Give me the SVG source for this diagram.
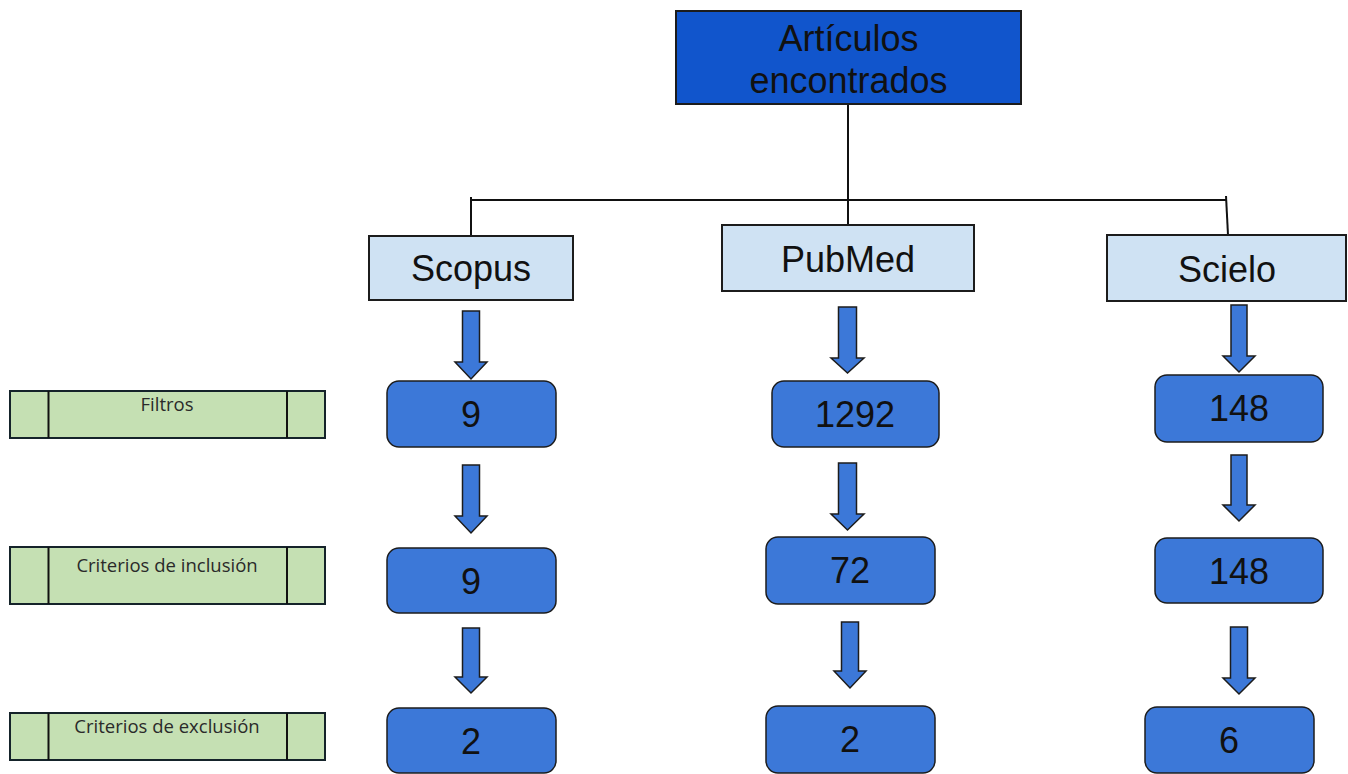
<svg xmlns="http://www.w3.org/2000/svg" width="1348" height="774" viewBox="0 0 1348 774">
<style>
.top{fill:#1155cc;stroke:#1c1c1c;stroke-width:2}
.src{fill:#cfe2f3;stroke:#1c1c1c;stroke-width:2}
.num{fill:#3c78d8;stroke:#1c1c1c;stroke-width:1.5}
.arr{fill:#3c78d8;stroke:#1c1c1c;stroke-width:1.5;stroke-linejoin:miter}
.lab{fill:#c5e0b3;stroke:#15232a;stroke-width:2}
.t{font-family:"Liberation Sans",Arial,sans-serif;font-size:36px;fill:#111;text-anchor:middle}
.s{font-family:"Open Sans","Liberation Sans",sans-serif;font-size:18.5px;fill:#2a2a2a;text-anchor:middle}
.ln{stroke:#111;stroke-width:2;fill:none}
</style>
<g id="connectors">
<path class="ln" d="M848 104 V225"/>
<path class="ln" d="M471 200 H1226"/>
<path class="ln" d="M471 197 V236"/>
<path class="ln" d="M1226 196 L1228 235"/>
<path class="arr" d="M462.5 311 H479.5 V362 H487 L471 379 L455 362 H462.5 Z"/>
<path class="arr" d="M462.5 465 H479.5 V516 H487 L471 533 L455 516 H462.5 Z"/>
<path class="arr" d="M462.5 628 H479.5 V677 H487 L471 693 L455 677 H462.5 Z"/>
<path class="arr" d="M838.5 307 H856.5 V358 H864 L847.5 373 L831 358 H838.5 Z"/>
<path class="arr" d="M838.5 463 H856.5 V514 H864 L847.5 530 L831 514 H838.5 Z"/>
<path class="arr" d="M841.5 622 H858.5 V671 H866 L850 688 L834 671 H841.5 Z"/>
<path class="arr" d="M1231 305 H1247 V356 H1255 L1239 372 L1223 356 H1231 Z"/>
<path class="arr" d="M1231 455 H1247 V505 H1255 L1239 521 L1223 505 H1231 Z"/>
<path class="arr" d="M1230.5 627 H1247.5 V678 H1255 L1239 694 L1223 678 H1230.5 Z"/>
</g>
<g id="top">
<rect class="top" x="676" y="11" width="345" height="93"/>
<text class="t" x="848.5" y="51">Artículos</text>
<text class="t" x="848.5" y="93">encontrados</text>
</g>
<g id="scopus"><rect class="src" x="369" y="236" width="204" height="64"/><text class="t" x="471" y="281">Scopus</text></g>
<g id="pubmed"><rect class="src" x="722" y="225" width="252" height="66"/><text class="t" x="848" y="272">PubMed</text></g>
<g id="scielo"><rect class="src" x="1107" y="235" width="239" height="66"/><text class="t" x="1227" y="282">Scielo</text></g>
<g id="label-filtros"><rect class="lab" x="10" y="391" width="315" height="47"/><path class="ln lab" d="M48.5 391 V438 M287 391 V438"/><text class="s" x="167" y="411">Filtros</text></g>
<g id="label-inclusion"><rect class="lab" x="10" y="547" width="315" height="57"/><path class="ln lab" d="M48.5 547 V604 M287 547 V604"/><text class="s" x="167" y="572">Criterios de inclusión</text></g>
<g id="label-exclusion"><rect class="lab" x="10" y="713" width="315" height="47"/><path class="ln lab" d="M48.5 713 V760 M287 713 V760"/><text class="s" x="167" y="733">Criterios de exclusión</text></g>
<g id="scopus-1"><rect class="num" x="387" y="381" width="169" height="66" rx="12"/><text class="t" x="471" y="427">9</text></g>
<g id="scopus-2"><rect class="num" x="387" y="548" width="169" height="65" rx="12"/><text class="t" x="471" y="594">9</text></g>
<g id="scopus-3"><rect class="num" x="387" y="708" width="169" height="65" rx="12"/><text class="t" x="471" y="754">2</text></g>
<g id="pubmed-1"><rect class="num" x="772" y="381" width="167" height="66" rx="12"/><text class="t" x="855" y="427">1292</text></g>
<g id="pubmed-2"><rect class="num" x="766" y="537" width="169" height="67" rx="12"/><text class="t" x="850" y="583">72</text></g>
<g id="pubmed-3"><rect class="num" x="766" y="706" width="169" height="67" rx="12"/><text class="t" x="850" y="752">2</text></g>
<g id="scielo-1"><rect class="num" x="1155" y="375" width="168" height="67" rx="12"/><text class="t" x="1239" y="421">148</text></g>
<g id="scielo-2"><rect class="num" x="1155" y="538" width="168" height="65" rx="12"/><text class="t" x="1239" y="584">148</text></g>
<g id="scielo-3"><rect class="num" x="1145" y="707" width="169" height="66" rx="12"/><text class="t" x="1229" y="753">6</text></g>
</svg>
